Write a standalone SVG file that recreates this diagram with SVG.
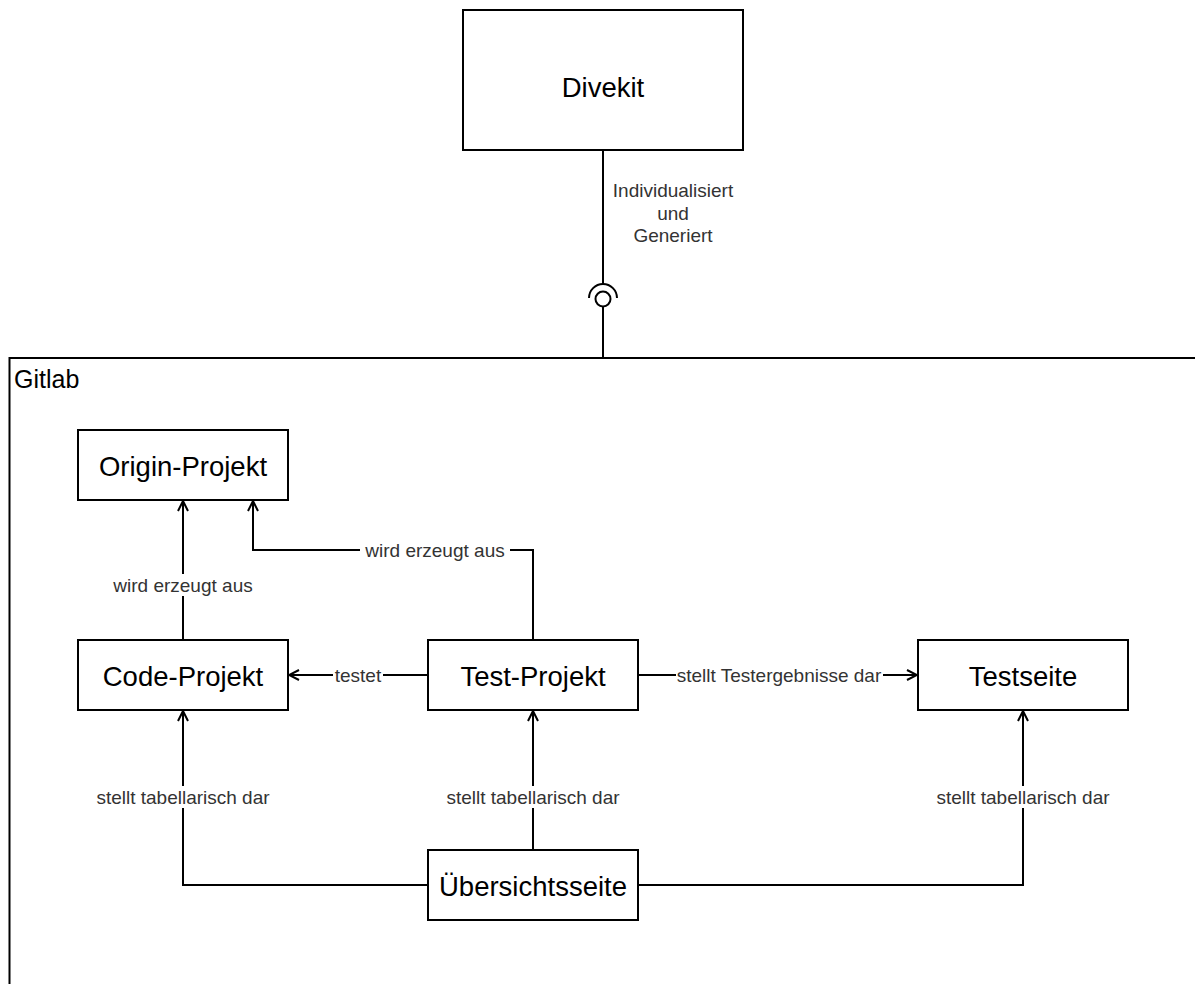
<svg xmlns="http://www.w3.org/2000/svg" width="1195" height="984" viewBox="0 0 1195 984">
<style>
.box{fill:#fff;stroke:#000;stroke-width:2}
.nt{font-family:"Liberation Sans",Arial,sans-serif;font-size:27.5px;fill:#000;text-anchor:middle;dominant-baseline:central}
.ln{fill:none;stroke:#000;stroke-width:2}
.lb{font-family:"Liberation Sans",Arial,sans-serif;font-size:19px;fill:#333;text-anchor:middle;dominant-baseline:central}
.lbg{fill:#fff}
</style>
<defs>
<marker id="open" viewBox="0 0 12 12" refX="11" refY="6" markerWidth="12" markerHeight="12" markerUnits="userSpaceOnUse" orient="auto">
<path d="M1,1 L11,6 L1,11" fill="none" stroke="#000" stroke-width="2"/>
</marker>
</defs>
<rect width="1195" height="984" fill="#fff"/>
<g id="gitlab">
<rect x="9.5" y="358" width="1200" height="700" class="box"/>
<text x="14" y="379" font-family="Liberation Sans,Arial,sans-serif" font-size="25" dominant-baseline="central">Gitlab</text>
</g>
<g id="divekit">
<rect x="463" y="10" width="280" height="140" class="box"/>
<text x="603" y="87" class="nt">Divekit</text>
</g>
<g id="origin">
<rect x="78" y="430" width="210" height="70" class="box"/>
<text x="183" y="466" class="nt">Origin-Projekt</text>
</g>
<g id="code">
<rect x="78" y="640" width="210" height="70" class="box"/>
<text x="183" y="676" class="nt">Code-Projekt</text>
</g>
<g id="test">
<rect x="428" y="640" width="210" height="70" class="box"/>
<text x="533" y="676" class="nt">Test-Projekt</text>
</g>
<g id="testseite">
<rect x="918" y="640" width="210" height="70" class="box"/>
<text x="1023" y="676" class="nt">Testseite</text>
</g>
<g id="uebersicht">
<rect x="428" y="850" width="210" height="70" class="box"/>
<text x="533" y="886" class="nt">Übersichtsseite</text>
</g>
<g id="connectors">
<path d="M603,150 V284" class="ln"/>
<path d="M589,298 A14,14 0 0 1 617,298" class="ln"/>
<circle cx="603" cy="299" r="7.5" class="ln"/>
<path d="M603,306.5 V358" class="ln"/>
<text class="lb" x="673" y="190">Individualisiert</text>
<text class="lb" x="673" y="213">und</text>
<text class="lb" x="673" y="235">Generiert</text>
<path d="M183,640 V501" class="ln" marker-end="url(#open)"/>
<rect x="106" y="574" width="154" height="22" class="lbg"/>
<text class="lb" x="183" y="585">wird erzeugt aus</text>
<path d="M533,640 V550 H253 V501" class="ln" marker-end="url(#open)"/>
<rect x="360" y="539" width="150" height="22" class="lbg"/>
<text class="lb" x="435" y="550">wird erzeugt aus</text>
<path d="M428,675 H289" class="ln" marker-end="url(#open)"/>
<rect x="333" y="664" width="50" height="22" class="lbg"/>
<text class="lb" x="358" y="675">testet</text>
<path d="M638,675 H917" class="ln" marker-end="url(#open)"/>
<rect x="676" y="664" width="207" height="22" class="lbg"/>
<text class="lb" x="779" y="675">stellt Testergebnisse dar</text>
<path d="M428,885 H183 V711" class="ln" marker-end="url(#open)"/>
<rect x="95" y="786" width="176" height="22" class="lbg"/>
<text class="lb" x="183" y="797">stellt tabellarisch dar</text>
<path d="M533,850 V711" class="ln" marker-end="url(#open)"/>
<rect x="445" y="786" width="176" height="22" class="lbg"/>
<text class="lb" x="533" y="797">stellt tabellarisch dar</text>
<path d="M638,885 H1023 V711" class="ln" marker-end="url(#open)"/>
<rect x="935" y="786" width="176" height="22" class="lbg"/>
<text class="lb" x="1023" y="797">stellt tabellarisch dar</text>
</g>
</svg>
